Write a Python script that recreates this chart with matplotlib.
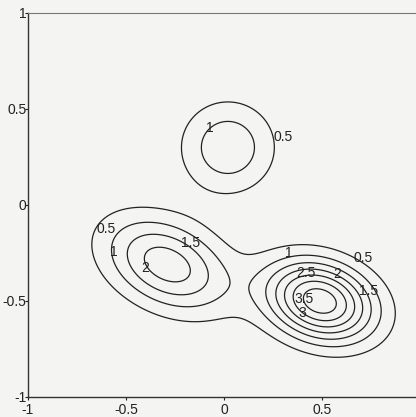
import numpy as np
import matplotlib.pyplot as plt

# three gaussian bumps
peak_x = [-0.29, 0.49, 0.02]
peak_y = [-0.31, -0.50, 0.30]
peak_amp = [2.3, 3.85, 1.4]
peak_sx = [0.22, 0.19, 0.165]
peak_sy = [0.17, 0.145, 0.165]
peak_rho = [-0.35, -0.22, 0.0]

levels = [0.5, 1, 1.5, 2, 2.5, 3, 3.5]

# contour labels (text, x, y) as they appear on the plot
label_text = ['1', '0.5', '0.5', '1', '1.5', '2', '1', '0.5', '2.5', '2', '1.5', '3.5', '3']
label_x = [-0.07, 0.30, -0.60, -0.56, -0.17, -0.40, 0.33, 0.71, 0.42, 0.58, 0.74, 0.41, 0.40]
label_y = [0.40, 0.355, -0.125, -0.245, -0.20, -0.33, -0.25, -0.275, -0.355, -0.36, -0.45, -0.49, -0.56]

xticks = [-1, -0.5, 0, 0.5]
yticks = [-1, -0.5, 0, 0.5, 1]

plt.rcParams['font.family'] = ['Liberation Sans', 'DejaVu Sans']

x = np.linspace(-1, 1, 401)
y = np.linspace(-1, 1, 401)
X, Y = np.meshgrid(x, y)
Z = np.zeros_like(X)
for cx, cy, a, sx, sy, r in zip(peak_x, peak_y, peak_amp, peak_sx, peak_sy, peak_rho):
    u = (X - cx) / sx
    v = (Y - cy) / sy
    Z += a * np.exp(-(u**2 - 2*r*u*v + v**2) / (2*(1 - r**2)))

fig = plt.figure(figsize=(4.16, 4.17), dpi=100, facecolor='#f4f4f2')
ax = fig.add_axes([28/416, 20/417, 392/416, 384/417])
ax.set_facecolor('#f4f4f2')

ax.contour(X, Y, Z, levels=levels, colors='#222222', linewidths=0.9)
for t, lx, ly in zip(label_text, label_x, label_y):
    ax.text(lx, ly, t, fontsize=10, color='#222222', ha='center', va='center')

ax.set_xlim(-1, 1)
ax.set_ylim(-1, 1)
ax.set_xticks(xticks)
ax.set_xticklabels(['%g' % t for t in xticks])
ax.set_yticks(yticks)
ax.set_yticklabels(['%g' % t for t in yticks])
ax.tick_params(length=2, width=0.8, labelsize=10, colors='#222222')
ax.tick_params(axis='y', pad=-1)
ax.tick_params(axis='x', pad=2)
for s in ['left', 'bottom']:
    ax.spines[s].set_color('#333333')
    ax.spines[s].set_linewidth(1.0)
ax.spines['top'].set_color('#777777')
ax.spines['top'].set_linewidth(0.8)
ax.spines['right'].set_visible(False)

fig.savefig('out.png', dpi=100, facecolor=fig.get_facecolor())
